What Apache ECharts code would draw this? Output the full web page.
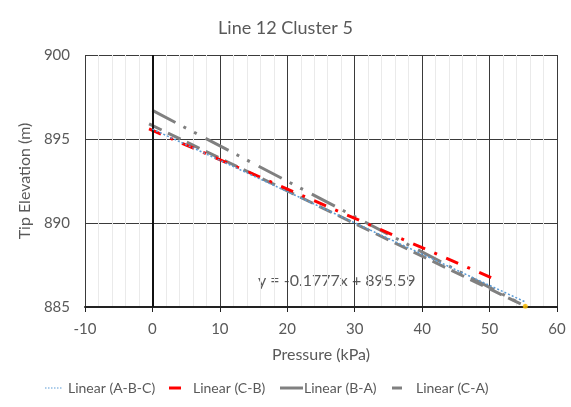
<!DOCTYPE html>
<html><head><meta charset="utf-8">
<script src="https://cdn.jsdelivr.net/npm/echarts@6/dist/echarts.min.js"></script>
<style>html,body{margin:0;padding:0;background:#fff}#c{width:571px;height:407px}</style>
</head><body><div id="c"></div>
<script>
var titleText = 'Line 12 Cluster 5';
var xName = 'Pressure (kPa)';
var yName = 'Tip Elevation (m)';
var equation = 'y = -0.1777x + 895.59';
var seriesNames = ['Linear (A-B-C)', 'Linear (C-B)', 'Linear (B-A)', 'Linear (C-A)'];
var lineABC = [[0, 895.59], [55.3, 885.3]];
var lineCB = [[-0.5, 895.6], [50.5, 886.7]];
var lineBA = [[-0.5, 895.9], [55.3, 885.05]];
var lineCA = [[0, 896.7], [55.3, 885.05]];
var endPoint = [[55.3, 885.05]];

var txt = '#595959';
var font = 'Lato';
var gray = '#808080';

function legendItem(x1, x2, tx, color, width, dash, label) {
  return [
    {type: 'line', shape: {x1: x1, y1: 388, x2: x2, y2: 388}, silent: true,
     style: {stroke: color, lineWidth: width, lineDash: dash}},
    {type: 'text', x: tx, y: 388, silent: true,
     style: {text: label, fontFamily: font, fontSize: 14, fill: txt, verticalAlign: 'middle', align: 'left'}}
  ];
}
var legendGraphics = [].concat(
  legendItem(45, 63, 68, '#5b9bd5', 1.2, [1.5, 1.5], seriesNames[0]),
  legendItem(169, 181, 193, '#ff0000', 3, null, seriesNames[1]),
  legendItem(280, 303, 304, gray, 3, null, seriesNames[2]),
  legendItem(392, 402, 416, gray, 3, null, seriesNames[3])
);

var chart = echarts.init(document.getElementById('c'), null, {renderer: 'canvas'});
chart.setOption({
  animation: false,
  textStyle: {fontFamily: font},
  title: {text: titleText, left: 'center', top: 14, textStyle: {fontFamily: font, fontSize: 18, fontWeight: 'normal', color: txt}},
  grid: {left: 85, right: 14, top: 55, bottom: 100},
  xAxis: {
    type: 'value', min: -10, max: 60, interval: 10,
    name: xName, nameLocation: 'middle', nameGap: 40,
    nameTextStyle: {fontFamily: font, fontSize: 16, color: txt},
    axisLine: {onZero: false, lineStyle: {color: '#222', width: 2}},
    axisTick: {show: true, inside: false, length: 5, lineStyle: {color: '#222'}},
    axisLabel: {fontFamily: font, fontSize: 15, color: txt, margin: 15},
    splitLine: {show: true, lineStyle: {color: '#3a3a3a', width: 1}},
    minorTick: {show: false, splitNumber: 5},
    minorSplitLine: {show: true, lineStyle: {color: '#eaeaea', width: 1}}
  },
  yAxis: {
    type: 'value', min: 885, max: 900, interval: 5,
    name: yName, nameLocation: 'middle', nameGap: 39, nameRotate: 90,
    nameTextStyle: {fontFamily: font, fontSize: 16, color: txt},
    axisLine: {show: false},
    axisTick: {show: false},
    axisLabel: {fontFamily: font, fontSize: 15, color: txt, margin: 15},
    splitLine: {show: true, lineStyle: {color: '#3a3a3a', width: 1}}
  },
  graphic: [{
    type: 'text', left: 258, top: 273,
    style: {text: equation, fontFamily: font, fontSize: 16, fill: txt}
  }].concat(legendGraphics),
  series: [
    {
      name: seriesNames[0], type: 'line', data: lineABC, symbol: 'none', z: 5,
      lineStyle: {color: '#5b9bd5', width: 1.5, type: [2, 2]},
      markLine: {silent: true, symbol: 'none', label: {show: false},
        lineStyle: {color: '#111', width: 2, type: 'solid'},
        data: [{xAxis: 0}]}
    },
    {
      name: seriesNames[1], type: 'line', data: lineCB, symbol: 'none', z: 4,
      lineStyle: {color: '#ff0000', width: 3, type: [13, 10, 3, 10]}
    },
    {
      name: seriesNames[2], type: 'line', data: lineBA, symbol: 'none', z: 3,
      lineStyle: {color: gray, width: 3, type: [14, 7]}
    },
    {
      name: seriesNames[3], type: 'line', data: lineCA, symbol: 'none', z: 3,
      lineStyle: {color: gray, width: 3, type: [26, 9, 3, 9, 3, 10]}
    },
    {
      type: 'scatter', data: endPoint, symbolSize: 5, z: 6, silent: true,
      itemStyle: {color: '#ffc000'}
    }
  ]
});
</script></body></html>
